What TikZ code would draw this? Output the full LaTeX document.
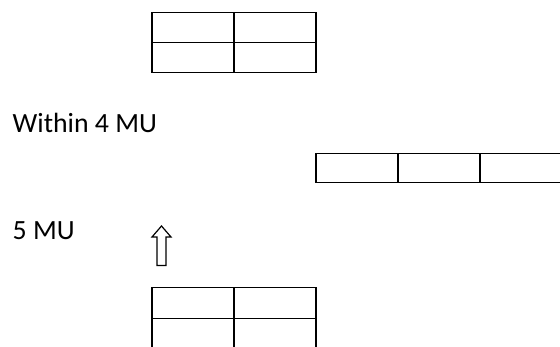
\documentclass[tikz,border=0pt]{standalone}
\usepackage{fontspec}
\setmainfont{Carlito}
\usepackage{tikz}

\begin{document}
\begin{tikzpicture}[x=1pt,y=-1pt,line width=1.3pt,
  lbl/.style={anchor=base west,inner sep=0pt,font=\fontsize{27.8}{33}\selectfont}]
\useasboundingbox (0,0) rectangle (560,347);
\clip (0,0) rectangle (560,347);
% top table, 2x2
\draw (152,12.5) rectangle (316,72.5);
\draw (152,42.5) -- (316,42.5);
\draw (234,12.5) -- (234,72.5);
\node[lbl] (within) at (12,133) {Within 4 MU};
% right table, 1x3 (runs off the edge)
\draw (316,153.5) rectangle (562,182.5);
\foreach \x in {398,480}
  \draw (\x,153.5) -- (\x,182.5);
\node[lbl] (five) at (12,240) {5 MU};
% hollow arrow
\draw[line width=1.2pt,line join=miter]
  (161.5,226) -- (171,237) -- (166,237) -- (166,265.5) -- (157,265.5)
  -- (157,237) -- (152,237) -- cycle;
% bottom table, 2x2 (cut by the page)
\draw (152,287.5) rectangle (316,349.5);
\draw (152,318.5) -- (316,318.5);
\draw (234,287.5) -- (234,349.5);
\end{tikzpicture}
\end{document}
